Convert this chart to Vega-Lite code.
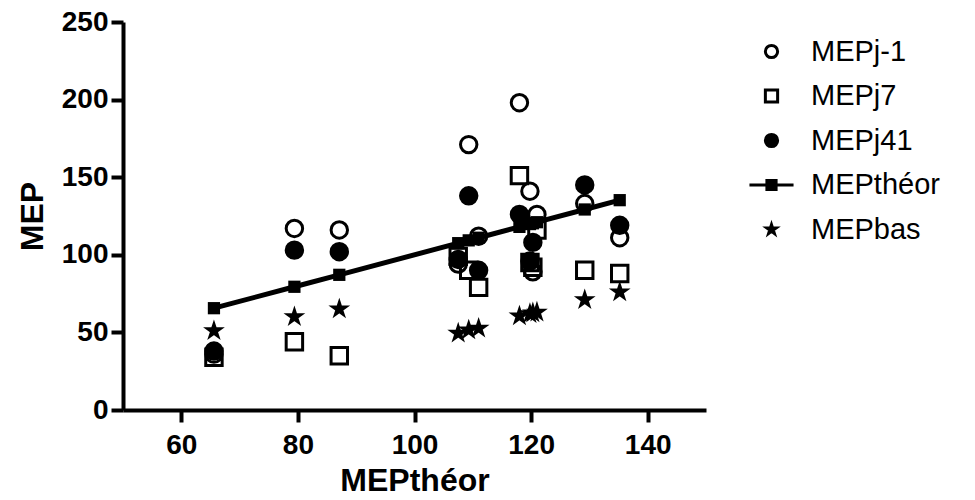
{
  "$schema": "https://vega.github.io/schema/vega-lite/v6.json",
  "autosize": {"type": "none"},
  "padding": {"left": 123, "top": 22, "right": 269, "bottom": 90},
  "width": 583,
  "height": 388,
  "background": "white",
  "config": {
    "view": {"stroke": null},
    "axis": {
      "grid": false,
      "domainColor": "black",
      "domainWidth": 4,
      "tickColor": "black",
      "tickWidth": 4,
      "tickSize": 12,
      "labelFont": "Liberation Sans",
      "labelFontWeight": "bold",
      "labelFontSize": 28,
      "labelColor": "black",
      "titleFont": "Liberation Sans",
      "titleFontWeight": "bold",
      "titleFontSize": 32,
      "titleColor": "black"
    },
    "legend": {
      "labelFont": "Liberation Sans",
      "labelFontSize": 29,
      "labelColor": "black",
      "padding": 0
    }
  },
  "data": {
    "values": [
      {"x": 65.6, "series": "MEPj-1", "y": 36},
      {"x": 65.6, "series": "MEPj7", "y": 34},
      {"x": 65.6, "series": "MEPj41", "y": 38},
      {"x": 65.6, "series": "MEPthéor", "y": 65.6},
      {"x": 65.6, "series": "MEPbas", "y": 51},
      {"x": 79.4, "series": "MEPj-1", "y": 117},
      {"x": 79.4, "series": "MEPj7", "y": 44},
      {"x": 79.4, "series": "MEPj41", "y": 103},
      {"x": 79.4, "series": "MEPthéor", "y": 79.4},
      {"x": 79.4, "series": "MEPbas", "y": 60},
      {"x": 87.1, "series": "MEPj-1", "y": 116},
      {"x": 87.1, "series": "MEPj7", "y": 35},
      {"x": 87.1, "series": "MEPj41", "y": 102},
      {"x": 87.1, "series": "MEPthéor", "y": 87.1},
      {"x": 87.1, "series": "MEPbas", "y": 65},
      {"x": 107.5, "series": "MEPj-1", "y": 94},
      {"x": 107.5, "series": "MEPj7", "y": 99},
      {"x": 107.5, "series": "MEPj41", "y": 97},
      {"x": 107.5, "series": "MEPthéor", "y": 107.5},
      {"x": 107.5, "series": "MEPbas", "y": 49.5},
      {"x": 109.3, "series": "MEPj-1", "y": 171},
      {"x": 109.3, "series": "MEPj7", "y": 90},
      {"x": 109.3, "series": "MEPj41", "y": 138},
      {"x": 109.3, "series": "MEPthéor", "y": 109.3},
      {"x": 109.3, "series": "MEPbas", "y": 51.5},
      {"x": 111.0, "series": "MEPj-1", "y": 112},
      {"x": 111.0, "series": "MEPj7", "y": 79},
      {"x": 111.0, "series": "MEPj41", "y": 90},
      {"x": 111.0, "series": "MEPthéor", "y": 111.0},
      {"x": 111.0, "series": "MEPbas", "y": 52.6},
      {"x": 118.0, "series": "MEPj-1", "y": 198},
      {"x": 118.0, "series": "MEPj7", "y": 151},
      {"x": 118.0, "series": "MEPj41", "y": 126},
      {"x": 118.0, "series": "MEPthéor", "y": 118.0},
      {"x": 118.0, "series": "MEPbas", "y": 60.5},
      {"x": 119.8, "series": "MEPj-1", "y": 141},
      {"x": 119.8, "series": "MEPj7", "y": 95},
      {"x": 119.8, "series": "MEPj41", "y": 96},
      {"x": 119.8, "series": "MEPthéor", "y": 119.8},
      {"x": 119.8, "series": "MEPbas", "y": 62},
      {"x": 120.3, "series": "MEPj-1", "y": 89},
      {"x": 120.3, "series": "MEPj7", "y": 92},
      {"x": 120.3, "series": "MEPj41", "y": 108},
      {"x": 120.3, "series": "MEPthéor", "y": 120.3},
      {"x": 120.3, "series": "MEPbas", "y": 62.5},
      {"x": 121.0, "series": "MEPj-1", "y": 126},
      {"x": 121.0, "series": "MEPj7", "y": 116},
      {"x": 121.0, "series": "MEPthéor", "y": 121.0},
      {"x": 121.0, "series": "MEPbas", "y": 63},
      {"x": 129.2, "series": "MEPj-1", "y": 133},
      {"x": 129.2, "series": "MEPj7", "y": 90},
      {"x": 129.2, "series": "MEPj41", "y": 145},
      {"x": 129.2, "series": "MEPthéor", "y": 129.2},
      {"x": 129.2, "series": "MEPbas", "y": 71},
      {"x": 135.2, "series": "MEPj-1", "y": 111},
      {"x": 135.2, "series": "MEPj7", "y": 88},
      {"x": 135.2, "series": "MEPj41", "y": 119},
      {"x": 135.2, "series": "MEPthéor", "y": 135.2},
      {"x": 135.2, "series": "MEPbas", "y": 76}
    ]
  },
  "encoding": {
    "x": {
      "field": "x", "type": "quantitative", "title": "MEPthéor",
      "scale": {"domain": [50, 150], "nice": false, "zero": false},
      "axis": {"values": [60, 80, 100, 120, 140], "labelPadding": 9, "titlePadding": 6}
    },
    "y": {
      "field": "y", "type": "quantitative", "title": "MEP",
      "scale": {"domain": [0, 250], "nice": false},
      "axis": {"values": [0, 50, 100, 150, 200, 250], "labelPadding": 3, "titlePadding": 12}
    }
  },
  "layer": [
    {
      "transform": [{"filter": "datum.series === 'MEPthéor'"}],
      "mark": {"type": "line", "color": "black", "strokeWidth": 5}
    },
    {
      "transform": [{"filter": "datum.series === 'MEPthéor'"}],
      "mark": {"type": "point", "shape": "square", "filled": true, "color": "black", "size": 150, "strokeWidth": 0, "opacity": 1}
    },
    {
      "transform": [{"filter": "datum.series !== 'MEPthéor'"}],
      "mark": {"type": "point", "size": 270, "opacity": 1},
      "encoding": {
        "shape": {
          "field": "series", "type": "nominal",
          "scale": {
            "domain": ["MEPj-1", "MEPj7", "MEPj41", "MEPthéor", "MEPbas"],
            "range": [
              "circle",
              "square",
              "circle",
              "M-3.6,0H3.6M-0.75,-0.75H0.75V0.75H-0.75Z",
              "M0,-0.8L0.18,-0.247L0.761,-0.247L0.29,0.094L0.47,0.647L0,0.306L-0.47,0.647L-0.29,0.094L-0.761,-0.247L-0.18,-0.247Z"
            ]
          },
          "legend": {
            "title": null,
            "orient": "none",
            "legendX": 634,
            "legendY": 15,
            "symbolSize": 150,
            "labelOffset": 25,
            "rowPadding": 14.5
          }
        },
        "fill": {
          "field": "series", "type": "nominal",
          "scale": {
            "domain": ["MEPj-1", "MEPj7", "MEPj41", "MEPthéor", "MEPbas"],
            "range": ["transparent", "transparent", "black", "black", "black"]
          }
        },
        "stroke": {
          "field": "series", "type": "nominal",
          "scale": {
            "domain": ["MEPj-1", "MEPj7", "MEPj41", "MEPthéor", "MEPbas"],
            "range": ["black", "black", "black", "black", "black"]
          }
        },
        "strokeWidth": {
          "field": "series", "type": "nominal",
          "scale": {
            "domain": ["MEPj-1", "MEPj7", "MEPj41", "MEPthéor", "MEPbas"],
            "range": [3, 3, 0, 4, 0]
          }
        }
      }
    }
  ]
}
